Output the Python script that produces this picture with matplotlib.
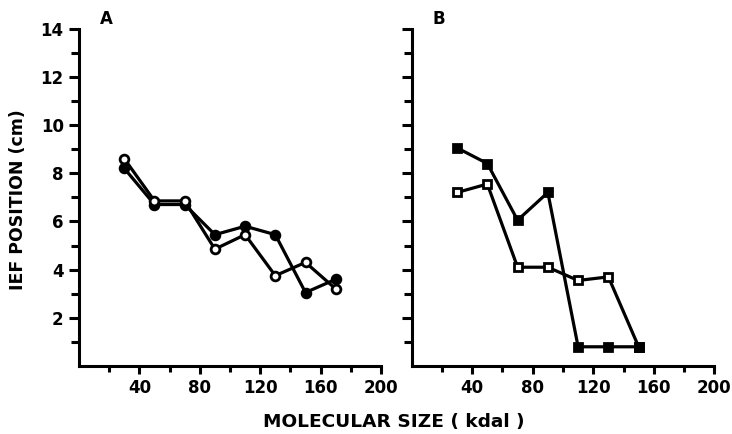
import matplotlib
matplotlib.use("Agg")
import matplotlib.pyplot as plt

# Data
sizes_a = [30, 50, 70, 90, 110, 130, 150, 170]
a_filled = [8.2, 6.7, 6.7, 5.45, 5.8, 5.45, 3.05, 3.6]
a_open = [8.6, 6.85, 6.85, 4.85, 5.45, 3.75, 4.3, 3.2]

sizes_b = [30, 50, 70, 90, 110, 130, 150]
b_filled = [9.05, 8.4, 6.05, 7.2, 0.8, 0.8, 0.8]
b_open = [7.2, 7.55, 4.1, 4.1, 3.55, 3.7, 0.8]

x_major = [40, 80, 120, 160, 200]
x_minor = [20, 60, 100, 140, 180]
y_major = [2, 4, 6, 8, 10, 12, 14]
y_minor = [1, 3, 5, 7, 9, 11, 13]

plt.rcParams['font.family'] = ['DejaVu Sans']
plt.rcParams['font.weight'] = 'bold'

fig = plt.figure(figsize=(7.32, 4.34), dpi=100)
axA = fig.add_axes([0.1079, 0.1565, 0.4126, 0.7778])
axB = fig.add_axes([0.5624, 0.1565, 0.4134, 0.7778])

lw = 2.3
ms = 6.3

def style(ax, ylabels=True):
    ax.set_xlim(0, 200)
    ax.set_ylim(0, 14)
    for s in ['top', 'right']:
        ax.spines[s].set_visible(False)
    for s in ['left', 'bottom']:
        ax.spines[s].set_linewidth(2.2)
    ax.set_xticks(x_major)
    ax.set_yticks(y_major)
    ax.set_xticks(x_minor, minor=True)
    ax.set_yticks(y_minor, minor=True)
    ax.tick_params(which='both', direction='out', width=2.2, labelsize=12)
    ax.tick_params(axis='y', which='major', length=7, pad=4)
    ax.tick_params(axis='y', which='minor', length=5.5)
    ax.tick_params(axis='x', which='major', length=5.5, pad=4)
    ax.tick_params(axis='x', which='minor', length=4)
    if not ylabels:
        ax.set_yticklabels([])
    for lab in ax.get_xticklabels() + ax.get_yticklabels():
        lab.set_fontweight('bold')

style(axA)
style(axB, ylabels=False)

axA.plot(sizes_a, a_filled, '-o', color='black', lw=lw, ms=ms,
         mfc='black', mec='black', mew=2, zorder=3)
axA.plot(sizes_a, a_open, '-o', color='black', lw=lw, ms=ms,
         mfc='white', mec='black', mew=2, zorder=4)

axB.plot(sizes_b, b_open, '-s', color='black', lw=lw, ms=ms,
         mfc='white', mec='black', mew=2, zorder=3)
axB.plot(sizes_b, b_filled, '-s', color='black', lw=lw, ms=ms,
         mfc='black', mec='black', mew=2, zorder=4)

fig.text(106 / 732, 1 - 19 / 434, 'A', fontsize=12, fontweight='bold',
         ha='center', va='center')
fig.text(439 / 732, 1 - 19 / 434, 'B', fontsize=12, fontweight='bold',
         ha='center', va='center')

fig.text(18 / 732, 1 - 200 / 434, 'IEF POSITION (cm)', rotation=90,
         fontsize=12.5, fontweight='bold', ha='center', va='center')
fig.text(394 / 732, 1 - 422 / 434, 'MOLECULAR SIZE ( kdal )',
         fontsize=13.3, fontweight='bold', ha='center', va='center')

fig.savefig('out.png', dpi=100)
